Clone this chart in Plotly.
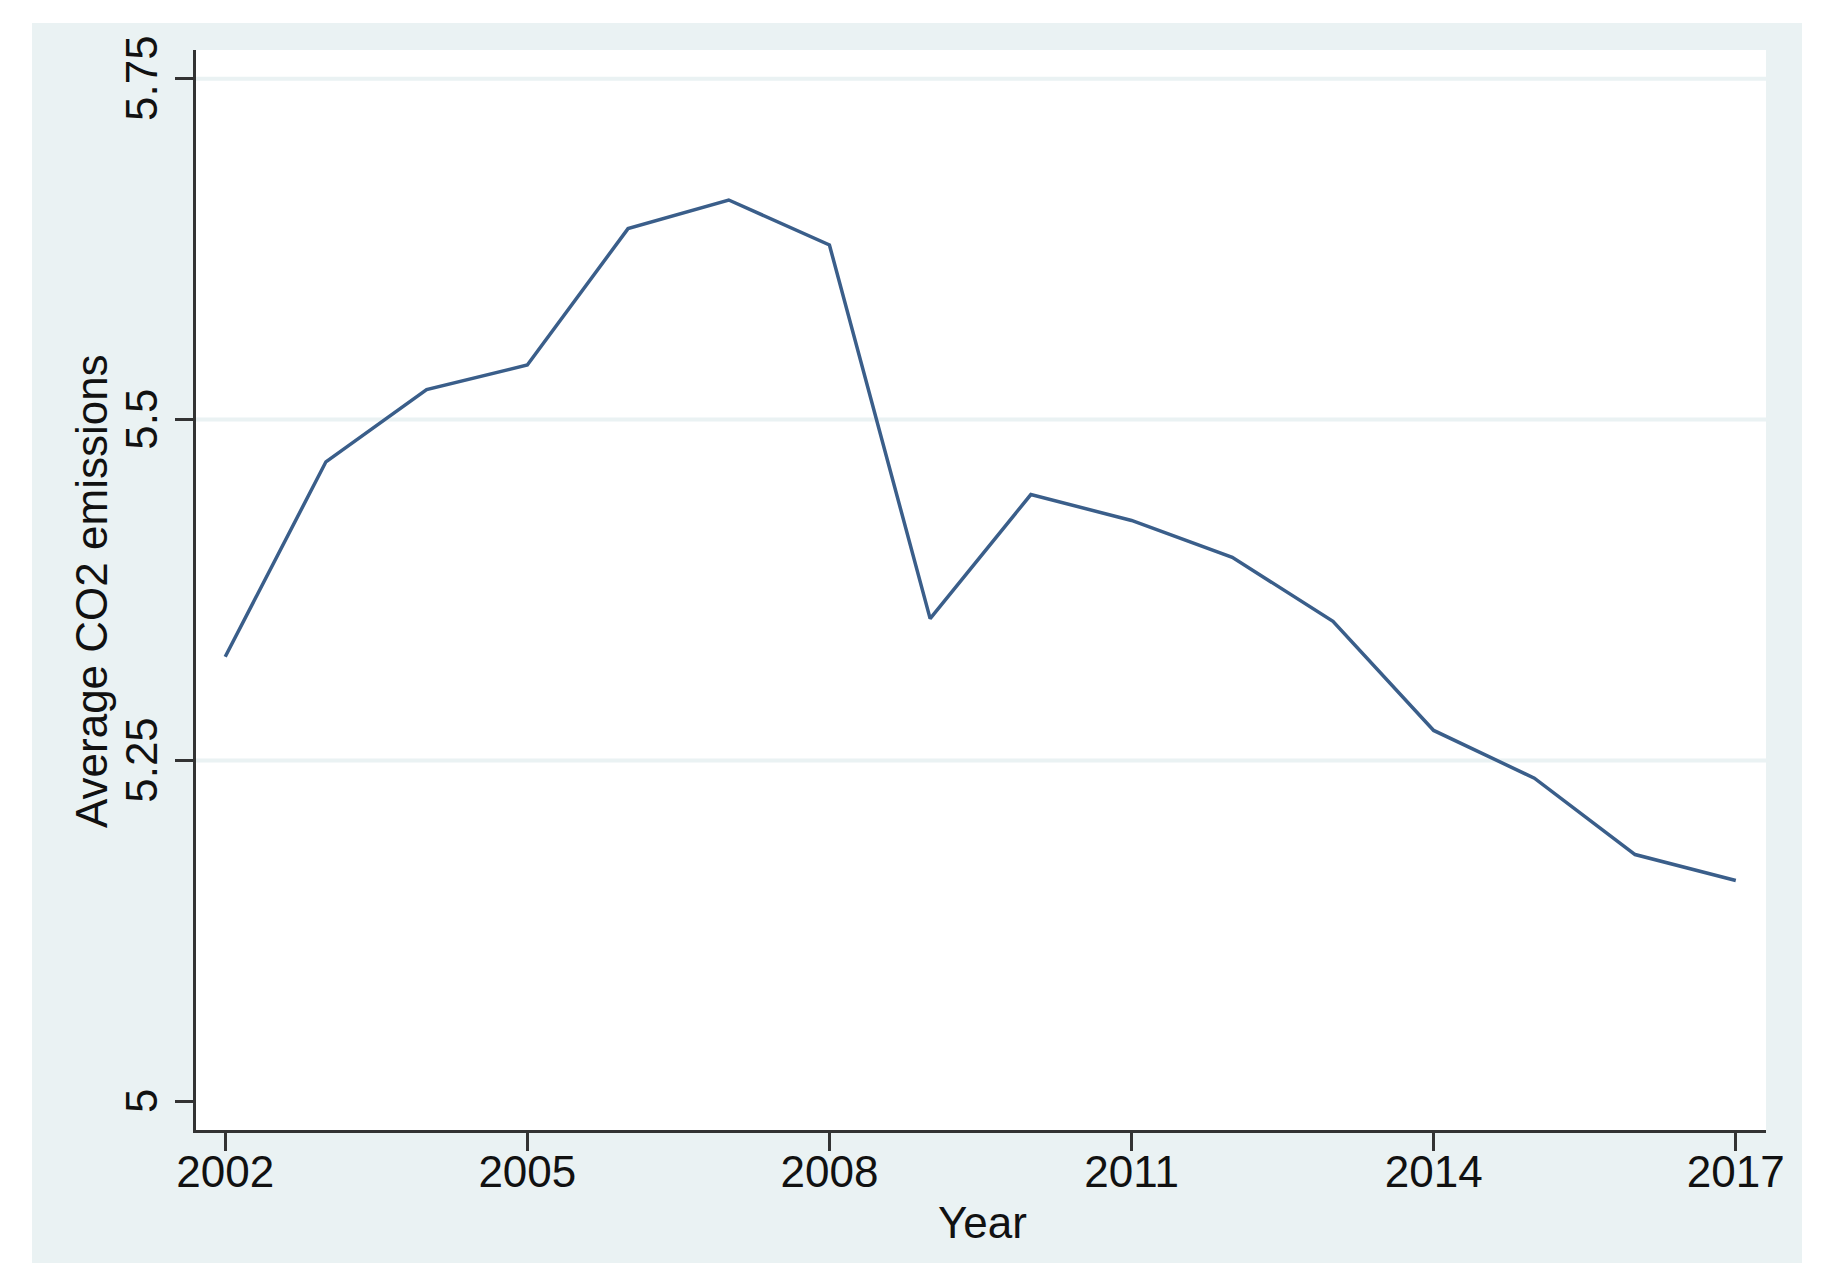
import plotly.graph_objects as go

years = list(range(2002, 2018))
co2 = [5.326, 5.469, 5.522, 5.540, 5.640, 5.661, 5.628, 5.354,
       5.445, 5.426, 5.399, 5.352, 5.272, 5.237, 5.181, 5.162]
x_ticks = [2002, 2005, 2008, 2011, 2014, 2017]
y_ticks = [5, 5.25, 5.5, 5.75]
y_tick_text = ["5", "5.25", "5.5", "5.75"]
grid_vals = [5.25, 5.5, 5.75]

# page body has an 8px margin; figure coordinates below are page coords minus 8
W, H = 1820, 1277
L, R, T, B = 188, 1758, 42, 1122
pw, ph = R - L, B - T

def px(x):
    return (x - L) / pw

def py(y):
    return (B - y) / ph

bg = "#EAF2F3"
font = "Liberation Sans, Arial, sans-serif"

shapes = [
    dict(type="rect", xref="paper", yref="paper", layer="below",
         x0=px(24), x1=px(1794), y0=py(1255), y1=py(15),
         fillcolor=bg, line=dict(width=0)),
    dict(type="rect", xref="paper", yref="paper", layer="below",
         x0=0, x1=1, y0=0, y1=1, fillcolor="white", line=dict(width=0)),
]
for g in grid_vals:
    shapes.append(dict(type="line", xref="paper", yref="y", layer="below",
                       x0=0, x1=1, y0=g, y1=g, line=dict(color=bg, width=4)))

fig = go.Figure()
fig.add_trace(go.Scatter(x=years, y=co2, mode="lines",
                         line=dict(color="#3A5E8A", width=3.5), showlegend=False))

fig.update_layout(
    width=W, height=H,
    margin=dict(l=L, r=W - R, t=T, b=H - B),
    paper_bgcolor="white", plot_bgcolor="white",
    font=dict(family=font, size=44, color="#111111"),
    shapes=shapes,
    annotations=[
        dict(text="Year", xref="paper", yref="paper",
             x=px(974), y=py(1214), xanchor="center", yanchor="middle",
             showarrow=False, font=dict(size=44)),
        dict(text="Average CO2 emissions", xref="paper", yref="paper",
             x=px(83), y=py(583), xanchor="center", yanchor="middle",
             textangle=-90, showarrow=False, font=dict(size=44)),
    ],
    xaxis=dict(range=[2001.71, 2017.3], tickvals=x_ticks,
               showgrid=False, zeroline=False,
               showline=True, linecolor="#333333", linewidth=3,
               ticks="outside", ticklen=18, tickwidth=3, tickcolor="#333333",
               tickfont=dict(size=44), ticklabelstandoff=-17),
    yaxis=dict(range=[4.979, 5.771], tickvals=y_ticks,
               ticktext=[t + "\u00a0" for t in y_tick_text],
               tickangle=-90,
               showgrid=False, zeroline=False,
               showline=True, linecolor="#333333", linewidth=3,
               ticks="outside", ticklen=18, tickwidth=3, tickcolor="#333333",
               tickfont=dict(size=44)),
)

fig.write_html("out.html")
